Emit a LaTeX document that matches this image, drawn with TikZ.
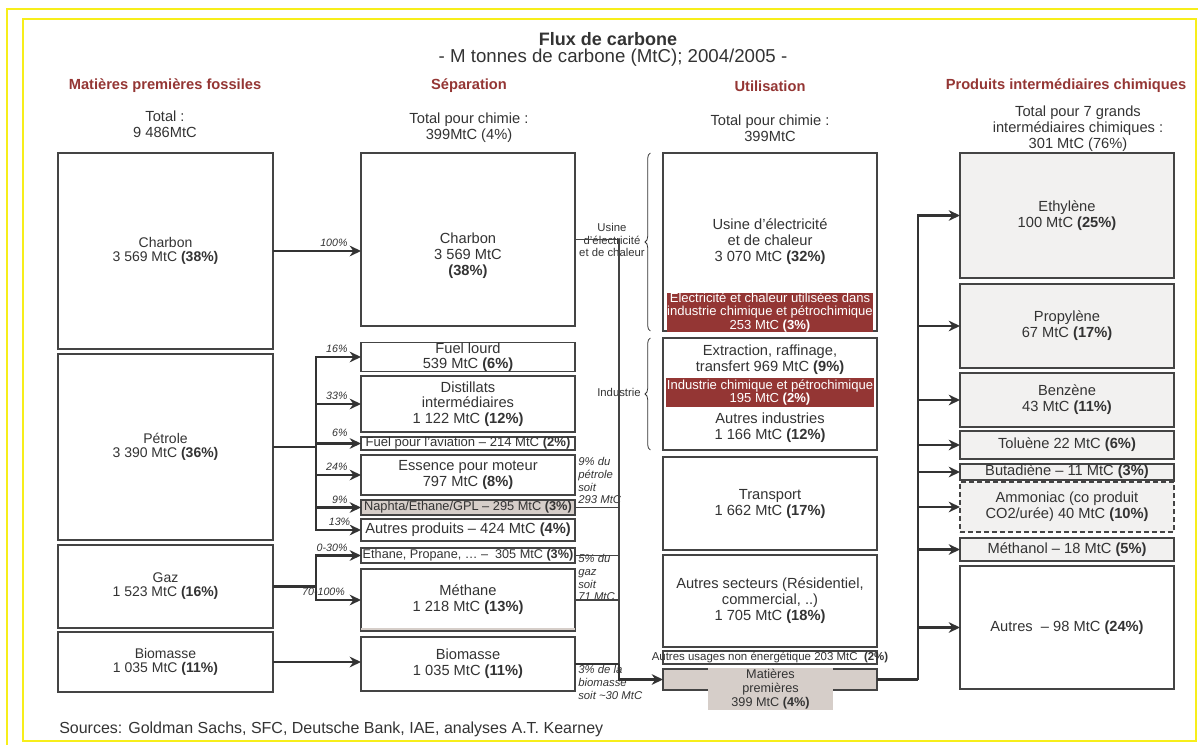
\documentclass[tikz,border=0pt]{standalone}
\usepackage{fontspec}
\setmainfont{Liberation Sans}
\usetikzlibrary{arrows.meta,decorations.pathreplacing}
\definecolor{ink}{HTML}{333333}
\definecolor{edge}{HTML}{444444}
\definecolor{wine}{HTML}{943634}
\definecolor{sand}{HTML}{D6CEC9}
\definecolor{pale}{HTML}{F2F1F0}
\definecolor{frame}{HTML}{F7EE1A}
\begin{document}
\begin{tikzpicture}[x=0.75pt,y=-0.75pt,
  txt/.style={text=ink,align=center,inner sep=0pt,font=\fontsize{11}{12}\selectfont},
  box/.style 2 args={draw=edge,line width=0.9pt,fill=white,inner sep=0pt,outer sep=0pt,
    minimum width=#1*0.75pt,minimum height=#2*0.75pt,txt},
  lbox/.style 2 args={box={#1}{#2},font=\fontsize{10.5}{10.5}\selectfont},
  rbox/.style 2 args={box={#1}{#2},fill=pale},
  redbox/.style 2 args={fill=wine,text=white,align=center,inner sep=0pt,
    minimum width=#1*0.75pt,minimum height=#2*0.75pt,font=\fontsize{9.8}{10.3}\selectfont},
  hdr/.style={text=wine,font=\fontsize{11}{12}\selectfont\bfseries},
  pct/.style={text=ink,inner sep=1pt,font=\fontsize{8}{9}\selectfont\itshape},
  note/.style={text=ink,align=left,inner sep=0pt,font=\fontsize{8.5}{9.6}\selectfont\itshape},
  small/.style={txt,font=\fontsize{8.5}{9.5}\selectfont},
  flow/.style={draw=ink,line width=2.2pt},
  flowarrow/.style={flow,-{Stealth[length=8.5pt,width=8pt]}},
  thinline/.style={draw=edge,line width=0.9pt},
  brace/.style={decorate,decoration={brace,amplitude=4pt},draw=ink,line width=0.6pt}]
\useasboundingbox (0,0) rectangle (1198,745);
\draw[frame,line width=1pt] (1198,9) -- (7,9) -- (7,745);
\draw[frame,line width=1pt] (23,19) rectangle (1196,741);

\node[text=ink,font=\fontsize{13.5}{15}\selectfont\bfseries] (title) at (608,39) {Flux de carbone};
\node[text=ink,font=\fontsize{14}{15}\selectfont] (subtitle) at (613,58) {- M tonnes de carbone (MtC); 2004/2005 -};

\node[hdr] (hfoss) at (165,86) {Matières premières fossiles};
\node[hdr] (hsep) at (469,86) {Séparation};
\node[hdr] (hutil) at (770,86) {Utilisation};
\node[hdr] (hprod) at (1066,86) {Produits intermédiaires chimiques};

\node[txt] (tfoss) at (165,124) {Total :\\9 486MtC};
\node[txt] (tsep) at (469,128) {Total pour chimie :\\399MtC (4\%)};
\node[txt] (tutil) at (770,128) {Total pour chimie :\\399MtC};
\node[txt] (tprod) at (1078,129) {Total pour 7 grands\\intermédiaires chimiques :\\301 MtC (76\%)};

\node[lbox={215}{196}] (lcharbon) at (165.5,251) {Charbon\\3 569 MtC \textbf{(38\%)}};
\node[lbox={215}{186}] (lpetrole) at (165.5,447) {Pétrole\\3 390 MtC \textbf{(36\%)}};
\node[lbox={215}{83}] (lgaz) at (165.5,586.5) {Gaz\\1 523 MtC \textbf{(16\%)}};
\node[lbox={215}{60}] (lbio) at (165.5,662) {Biomasse\\1 035 MtC \textbf{(11\%)}};

\node[box={214}{173}] (scharbon) at (468,239.5) {};
\node[txt] (scharbontxt) at (468,256) {Charbon\\3 569 MtC\\\textbf{(38\%)}};
\node[box={214}{28},font=\fontsize{11}{11}\selectfont] (sfuel) at (468,357) {Fuel lourd\\539 MtC \textbf{(6\%)}};
\node[box={214}{56},font=\fontsize{11}{11.6}\selectfont] (sdist) at (468,404) {Distillats\\intermédiaires\\1 122 MtC \textbf{(12\%)}};
\node[box={214}{13},font=\fontsize{9.8}{10}\selectfont] (savia) at (468,443.5) {Fuel pour l’aviation – 214 MtC \textbf{(2\%)}};
\node[box={214}{40}] (sess) at (468,475) {Essence pour moteur\\797 MtC \textbf{(8\%)}};
\node[box={214}{15},fill=sand,font=\fontsize{9.6}{10}\selectfont] (snaph) at (468,507.5) {Naphta/Ethane/GPL – 295 MtC \textbf{(3\%)}};
\node[box={214}{22}] (sautres) at (468,530) {Autres produits – 424 MtC \textbf{(4\%)}};
\node[box={214}{15},font=\fontsize{9.5}{10}\selectfont] (seth) at (468,555.5) {Ethane, Propane, … – \ 305 MtC \textbf{(3\%)}};
\node[box={214}{62}] (smeth) at (468,600) {Méthane\\1 218 MtC \textbf{(13\%)}};
\draw[sand,line width=2pt] ([yshift=1.4pt]smeth.south west) -- ([yshift=1.4pt]smeth.south east);
\node[box={214}{54}] (sbio) at (468,664) {Biomasse\\1 035 MtC \textbf{(11\%)}};

\node[box={214}{178}] (uusine) at (770,242) {Usine d’électricité\\et de chaleur\\3 070 MtC \textbf{(32\%)}};
\node[redbox={206}{39}] (uchim1) at (770,312.5) {Electricité et chaleur utilisées dans\\industrie chimique et pétrochimique\\253 MtC \textbf{(3\%)}};
\node[box={214}{112}] (uind) at (770,394) {};
\node[txt] (uextr) at (770,359.5) {Extraction, raffinage,\\transfert 969 MtC \textbf{(9\%)}};
\node[redbox={208}{29}] (uchim2) at (770,392.5) {Industrie chimique et pétrochimique\\195 MtC \textbf{(2\%)}};
\node[txt] (uautind) at (770,428) {Autres industries\\1 166 MtC \textbf{(12\%)}};
\node[box={214}{93}] (utrans) at (770,503.5) {Transport\\1 662 MtC \textbf{(17\%)}};
\node[box={214}{92}] (usect) at (770,601) {Autres secteurs (Résidentiel,\\commercial, ..)\\1 705 MtC \textbf{(18\%)}};
\node[box={214}{13}] (unonen) at (770,657.5) {};
\node[txt,font=\fontsize{8.6}{9}\selectfont] (unonentxt) at (770,657) {Autres usages non énergétique 203 MtC \ \textbf{(2\%)}};
\node[box={214}{21},fill=sand] (mp) at (770,679.5) {};
\node[fill=sand,minimum width=125*0.75pt,minimum height=42*0.75pt,txt,font=\fontsize{9.5}{10.6}\selectfont] (mplabel) at (770.5,689) {Matières\\premières\\399 MtC \textbf{(4\%)}};

\node[rbox={214}{125}] (reth) at (1067,215.5) {Ethylène\\100 MtC \textbf{(25\%)}};
\node[rbox={214}{84}] (rprop) at (1067,326) {Propylène\\67 MtC \textbf{(17\%)}};
\node[rbox={214}{54}] (rbenz) at (1067,400) {Benzène\\43 MtC \textbf{(11\%)}};
\node[rbox={214}{28}] (rtol) at (1067,445) {Toluène 22 MtC \textbf{(6\%)}};
\node[rbox={214}{16}] (rbuta) at (1067,472) {Butadiène – 11 MtC \textbf{(3\%)}};
\node[rbox={214}{50},line width=1.5pt,dash pattern=on 4pt off 2pt] (rammo) at (1067,507) {Ammoniac (co produit\\CO2/urée) 40 MtC \textbf{(10\%)}};
\node[rbox={214}{23}] (rmeth) at (1067,549.5) {Méthanol – 18 MtC \textbf{(5\%)}};
\node[box={214}{123}] (rautres) at (1067,627.5) {Autres \ – 98 MtC \textbf{(24\%)}};

\node[small,anchor=east] (busine) at (645,240) {Usine\\d’électricité\\et de chaleur};
\node[small,anchor=east] (bind) at (641,392) {Industrie};
\draw[brace] ([xshift=-9.5pt]uusine.south west) -- ([xshift=-9.5pt]uusine.north west);
\draw[brace] ([xshift=-9.5pt]uind.south west) -- ([xshift=-9.5pt]uind.north west);

\node[note,anchor=north west] (npet) at (578,457) {9\% du\\pétrole\\soit\\293 MtC};
\node[note,anchor=north west] (ngaz) at (578,554) {5\% du\\gaz\\soit\\71 MtC};
\node[note,anchor=north west] (nbio) at (578,665) {3\% de la\\biomasse\\soit \textasciitilde30 MtC};

\coordinate (cx) at (619,0);
\draw[thinline] (scharbon.east) -- (scharbon.east -| cx) -- (cx |- sbio.east);
\draw[thinline] (snaph.east) -- (snaph.east -| cx);
\draw[thinline] (seth.east) -- (seth.east -| cx);
\draw[thinline] (smeth.east) -- (smeth.east -| cx);
\draw[flow] (sbio.east) -- (sbio.east -| cx);
\draw[flowarrow] (sbio.east -| cx) |- (mp.west);

\draw[flowarrow] (lcharbon.east) -- (lcharbon.east -| scharbon.west)
  node[pct,pos=1,anchor=south east,xshift=-8pt,yshift=1pt] (p100) {100\%};
\draw[flow] (lpetrole.east) -- ++(43,0) coordinate (pj);
\draw[flowarrow] (pj) |- (sfuel.west) node[pct,pos=1,anchor=south east,xshift=-8pt,yshift=1pt] (p16) {16\%};
\draw[flowarrow] (pj) |- (sdist.west) node[pct,pos=1,anchor=south east,xshift=-8pt,yshift=1pt] (p33) {33\%};
\draw[flowarrow] (pj) |- (savia.west) node[pct,pos=1,anchor=south east,xshift=-8pt,yshift=3pt] (p6) {6\%};
\draw[flowarrow] (pj) |- (sess.west) node[pct,pos=1,anchor=south east,xshift=-8pt,yshift=1pt] (p24) {24\%};
\draw[flowarrow] (pj) |- (snaph.west) node[pct,pos=1,anchor=south east,xshift=-8pt,yshift=1pt] (p9) {9\%};
\draw[flowarrow] (pj) |- (sautres.west) node[pct,pos=1,anchor=south east,xshift=-6pt,yshift=1pt] (p13) {13\%};
\draw[flow] (lgaz.east) -- ++(43,0) coordinate (gj);
\draw[flowarrow] (gj) |- (seth.west) node[pct,pos=1,anchor=south east,xshift=-8pt,yshift=1pt] (p030) {0-30\%};
\draw[flowarrow] (gj) |- (smeth.west) node[pct,pos=1,anchor=south east,xshift=-10pt,yshift=1pt] (p70) {70-100\%};
\draw[flowarrow] (lbio.east) -- (lbio.east -| sbio.west);

\draw[flow] (mp.east) -- ++(41,0) coordinate (rj);
\foreach \dest in {reth,rprop,rbenz,rtol,rbuta,rammo,rmeth,rautres}
  \draw[flowarrow] (rj) |- (\dest.west);

\node[txt,anchor=west,font=\fontsize{12}{13}\selectfont] (src) at (59,729) {Sources: Goldman Sachs, SFC, Deutsche Bank, IAE, analyses A.T. Kearney};
\end{tikzpicture}
\end{document}
